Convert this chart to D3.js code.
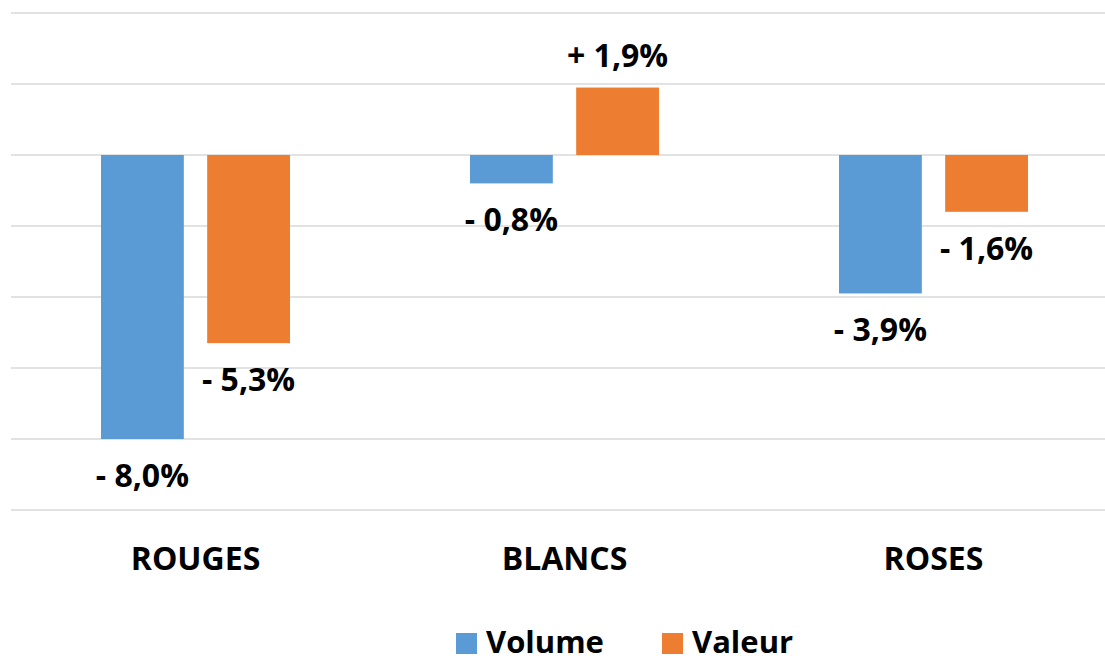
<!DOCTYPE html>
<html>
<head>
<meta charset="utf-8">
<script src="https://cdn.jsdelivr.net/npm/d3@7"></script>
<style>
  html, body { margin: 0; padding: 0; background: #fff; }
  svg { display: block; }
  text { font-family: "Open Sans", "Noto Sans", sans-serif; font-weight: 700; fill: #000; }
  .grid line { stroke: #d9d9d9; stroke-width: 1.5; }
</style>
</head>
<body>
<div id="chart"></div>
<script>
const categories = ["ROUGES", "BLANCS", "ROSES"];
const seriesNames = ["Volume", "Valeur"];
const volumeValues = [-8.0, -0.8, -3.9];
const valeurValues = [-5.3, 1.9, -1.6];
const yTicks = [4, 2, 0, -2, -4, -6, -8, -10];
const colors = ["#5b9bd5", "#ed7d31"];

const WIDTH = 1105;
const HEIGHT = 661;
const PLOT = { left: 11, right: 1118, top: 13, bottom: 510 };

function formatLabel(value) {
  const sign = value < 0 ? "- " : "+ ";
  return sign + Math.abs(value).toFixed(1).replace(".", ",") + "%";
}

const rows = categories.map((category, i) => ({
  category,
  values: [volumeValues[i], valeurValues[i]]
}));

const svg = d3.select("#chart")
  .append("svg")
  .attr("width", WIDTH)
  .attr("height", HEIGHT);

const x0 = d3.scaleBand()
  .domain(categories)
  .range([PLOT.left, PLOT.right])
  .padding(0);

const x1 = d3.scaleBand()
  .domain(seriesNames)
  .range([90, 279])
  .paddingInner(0.22);

const y = d3.scaleLinear()
  .domain([4, -10])
  .range([PLOT.top, PLOT.bottom]);

svg.append("g")
  .attr("class", "grid")
  .selectAll("line")
  .data(yTicks)
  .enter()
  .append("line")
  .attr("x1", PLOT.left)
  .attr("x2", WIDTH)
  .attr("y1", (t) => y(t))
  .attr("y2", (t) => y(t));

const groups = svg.selectAll(".cat")
  .data(rows)
  .enter()
  .append("g")
  .attr("class", "cat")
  .attr("transform", (d) => `translate(${x0(d.category)},0)`);

groups.selectAll("rect")
  .data((d) => d.values.map((v, i) => ({ name: seriesNames[i], value: v, i })))
  .enter()
  .append("rect")
  .attr("x", (d) => x1(d.name))
  .attr("width", x1.bandwidth())
  .attr("y", (d) => y(Math.max(0, d.value)))
  .attr("height", (d) => Math.abs(y(d.value) - y(0)))
  .attr("fill", (d) => colors[d.i]);

groups.selectAll(".value-label")
  .data((d) => d.values.map((v, i) => ({ name: seriesNames[i], value: v })))
  .enter()
  .append("text")
  .attr("class", "value-label")
  .attr("x", (d) => x1(d.name) + x1.bandwidth() / 2)
  .attr("y", (d) => d.value < 0 ? y(d.value) + 48 : y(d.value) - 21)
  .attr("text-anchor", "middle")
  .attr("font-size", 32)
  .text((d) => formatLabel(d.value));

groups.append("text")
  .attr("x", x0.bandwidth() / 2)
  .attr("y", 570)
  .attr("text-anchor", "middle")
  .attr("font-size", 32)
  .text((d) => d.category);

// legend sits right on the bottom edge in the original, nudged up a bit
const legendItems = [
  { name: "Volume", x: 456 },
  { name: "Valeur", x: 662 }
];

const legend = svg.append("g")
  .selectAll("g")
  .data(legendItems)
  .enter()
  .append("g")
  .attr("transform", (d) => `translate(${d.x},0)`);

legend.append("rect")
  .attr("x", 0)
  .attr("y", 633)
  .attr("width", 21)
  .attr("height", 21)
  .attr("fill", (d, i) => colors[i]);

legend.append("text")
  .attr("x", 30)
  .attr("y", 653)
  .attr("font-size", 31)
  .text((d) => d.name);
</script>
</body>
</html>
